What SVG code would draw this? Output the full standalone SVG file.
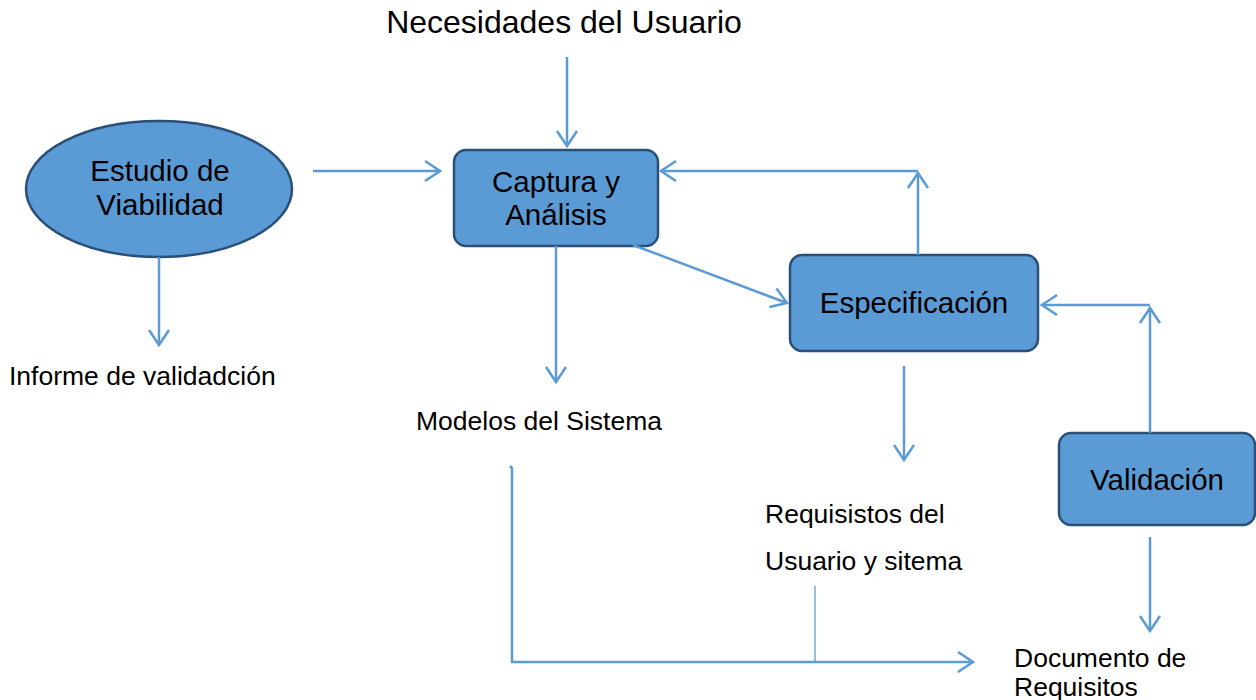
<svg xmlns="http://www.w3.org/2000/svg" width="1256" height="700" viewBox="0 0 1256 700">
<style>
.node{fill:#5b9bd5;stroke:#2a4f78;stroke-width:2.5}
.big{font-family:"Liberation Sans",Arial,sans-serif;font-size:29.5px;fill:#000}
.sm{font-family:"Liberation Sans",Arial,sans-serif;font-size:26.5px;fill:#000}
.ln{fill:none;stroke:#5b9bd5;stroke-width:2.5}
.thin{fill:none;stroke:#5b9bd5;stroke-width:1.3}
</style>
<defs>
<marker id="ah" viewBox="-18 -13 20 26" markerWidth="20" markerHeight="26" refX="0" refY="0" orient="auto" markerUnits="userSpaceOnUse">
<path d="M-15,-10 L0,0 L-15,10" fill="none" stroke="#5b9bd5" stroke-width="2.5"/>
</marker>
</defs>
<text class="big" x="564" y="33" text-anchor="middle" style="font-size:32px">Necesidades del Usuario</text>
<g id="estudio">
<ellipse class="node" cx="159" cy="189" rx="133" ry="68"/>
<text class="big" x="160" y="181" text-anchor="middle">Estudio de</text>
<text class="big" x="160" y="215" text-anchor="middle">Viabilidad</text>
</g>
<g id="captura">
<rect class="node" x="454" y="150" width="204" height="96" rx="12"/>
<text class="big" x="556" y="192" text-anchor="middle">Captura y</text>
<text class="big" x="556" y="225" text-anchor="middle">Análisis</text>
</g>
<g id="especificacion">
<rect class="node" x="790" y="255" width="248" height="96" rx="12"/>
<text class="big" x="914" y="313" text-anchor="middle">Especificación</text>
</g>
<g id="validacion">
<rect class="node" x="1059" y="433" width="196" height="92" rx="12"/>
<text class="big" x="1157" y="490" text-anchor="middle">Validación</text>
</g>
<g id="informe"><text class="sm" x="9" y="385">Informe de validadción</text></g>
<g id="modelos"><text class="sm" x="416" y="430">Modelos del Sistema</text></g>
<g id="requisitos">
<text class="sm" x="765" y="523">Requisistos del</text>
<text class="sm" x="765" y="570">Usuario y sitema</text>
</g>
<g id="documento">
<text class="sm" x="1014" y="667">Documento de</text>
<text class="sm" x="1014" y="696">Requisitos</text>
</g>
<g id="connectors">
<line class="ln" x1="567" y1="57" x2="567" y2="146" marker-end="url(#ah)"/>
<line class="ln" x1="313" y1="171" x2="440" y2="171" marker-end="url(#ah)"/>
<line class="ln" x1="159" y1="257" x2="159" y2="345" marker-end="url(#ah)"/>
<line class="ln" x1="556" y1="246" x2="556" y2="382" marker-end="url(#ah)"/>
<line class="ln" x1="633" y1="245" x2="787" y2="303" marker-end="url(#ah)"/>
<line class="ln" x1="918" y1="255" x2="918" y2="173" marker-end="url(#ah)"/>
<line class="ln" x1="918" y1="171" x2="661" y2="171" marker-end="url(#ah)"/>
<line class="ln" x1="1150" y1="433" x2="1150" y2="308" marker-end="url(#ah)"/>
<line class="ln" x1="1150" y1="305" x2="1042" y2="305" marker-end="url(#ah)"/>
<line class="ln" x1="1150" y1="537" x2="1150" y2="631" marker-end="url(#ah)"/>
<line class="ln" x1="904" y1="366" x2="904" y2="460" marker-end="url(#ah)"/>
<path class="ln" d="M510,466 L512,468 L512,662 L973,662" marker-end="url(#ah)"/>
<line class="thin" x1="815" y1="586" x2="815" y2="662"/>
</g>
</svg>
